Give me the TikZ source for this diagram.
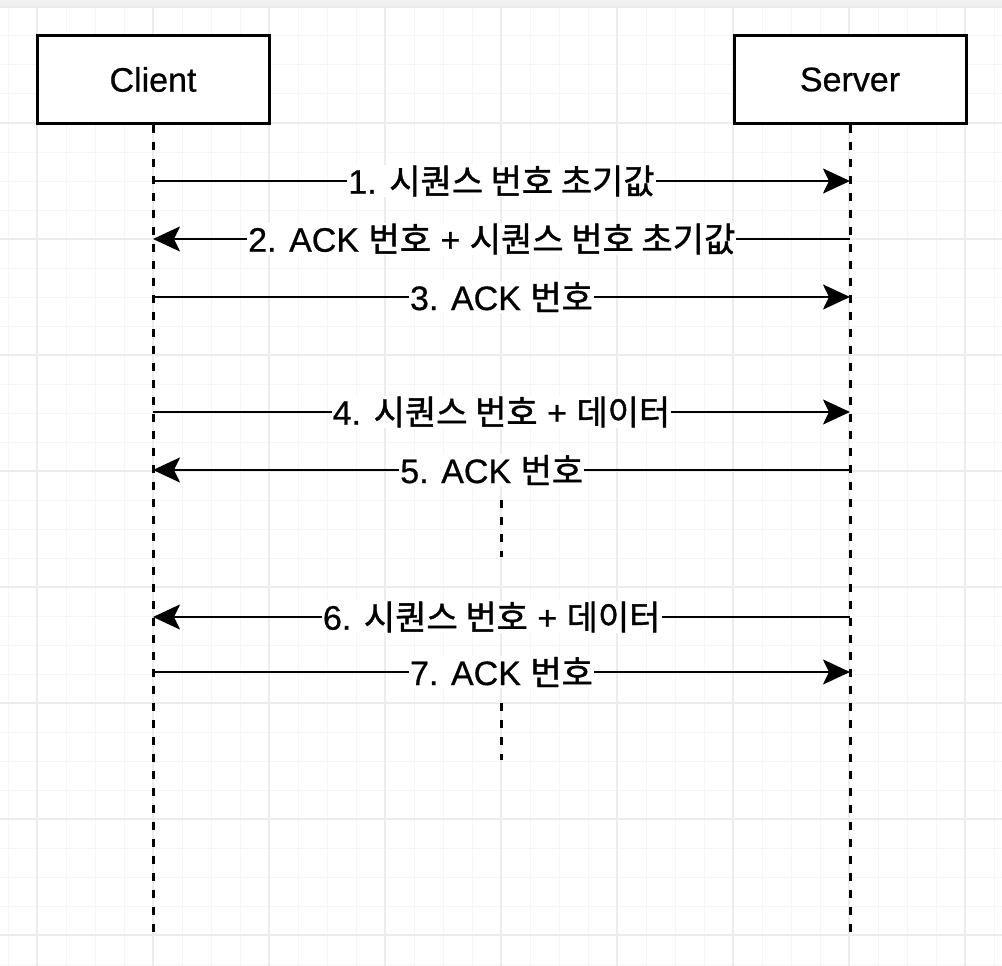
\documentclass[tikz,border=0pt]{standalone}
\usepackage{fontspec}
\setmainfont[FakeBold=0.6]{Liberation Sans}
\newfontfamily\krfont[FakeBold=1.2]{Noto Sans CJK KR}
\newcommand{\K}[1]{{\krfont #1}}
\usetikzlibrary{arrows.meta}
\definecolor{gridminor}{HTML}{F6F6F6}
\definecolor{gridmajor}{HTML}{ECECEC}
\definecolor{band}{HTML}{F0F0F0}
\begin{document}
\begin{tikzpicture}[x=1pt,y=-1pt,
  actor/.style={draw=black, line width=3pt, fill=white, minimum width=232pt, minimum height=87pt, inner sep=0pt, font=\fontsize{34}{40}\selectfont},
  lifeline/.style={line width=3pt, dash pattern=on 8pt off 9pt},
  msg/.style={line width=2.4pt, -{Stealth[length=27pt,width=25pt,inset=6pt]}},
  lbl/.style={fill=white, inner sep=1pt, font=\fontsize{34}{38}\selectfont},
  minorline/.style={draw=gridminor, line width=1pt},
  majorline/.style={draw=gridmajor, line width=1.2pt}]
\useasboundingbox (0,0) rectangle (1002,966);
\fill[white] (0,0) rectangle (1002,966);
\fill[band] (0,0) rectangle (1002,6);
% grid
\foreach \x in {8,37,...,1000} \draw[minorline] (\x,7) -- (\x,966);
\foreach \y in {7,36,...,965} \draw[minorline] (0,\y) -- (1002,\y);
\foreach \x in {37,153,...,1000} \draw[majorline] (\x,7) -- (\x,966);
\foreach \y in {7,123,...,965} \draw[majorline] (0,\y) -- (1002,\y);
% actors
\node[actor] (client) at (153,79.5) {Client};
\node[actor] (server) at (850,79.5) {Server};
\coordinate (cend) at (153,933);
\coordinate (send) at (850,933);
\draw[lifeline] (client.south) -- (cend);
\draw[lifeline] (server.south) -- (send);
% message points
\coordinate (c1) at (153,181); \coordinate (s1) at (850,181);
\coordinate (c2) at (153,239); \coordinate (s2) at (850,239);
\coordinate (c3) at (153,297); \coordinate (s3) at (850,297);
\coordinate (c4) at (153,412); \coordinate (s4) at (850,412);
\coordinate (c5) at (153,470); \coordinate (s5) at (850,470);
\coordinate (c6) at (153,617); \coordinate (s6) at (850,617);
\coordinate (c7) at (153,672); \coordinate (s7) at (850,672);
\draw[msg] (c1) -- node[lbl] (l1) {1. \K{시퀀스 번호 초기값}} (s1);
\draw[msg] (s2) -- node[lbl, pos=0.514] (l2) {2. ACK \K{번호} + \K{시퀀스 번호 초기값}} (c2);
\draw[msg] (c3) -- node[lbl] (l3) {3. ACK \K{번호}} (s3);
\draw[msg] (c4) -- node[lbl] (l4) {4. \K{시퀀스 번호} + \K{데이터}} (s4);
\draw[msg] (s5) -- node[lbl, pos=0.514] (l5) {5. ACK \K{번호}} (c5);
\draw[msg] (s6) -- node[lbl, pos=0.514] (l6) {6. \K{시퀀스 번호} + \K{데이터}} (c6);
\draw[msg] (c7) -- node[lbl] (l7) {7. ACK \K{번호}} (s7);
% continuation marks
\coordinate (g1a) at (501,500); \coordinate (g1b) at (501,557);
\coordinate (g2a) at (501,703); \coordinate (g2b) at (501,760);
\draw[lifeline] (g1a) -- (g1b);
\draw[lifeline] (g2a) -- (g2b);
\end{tikzpicture}
\end{document}
